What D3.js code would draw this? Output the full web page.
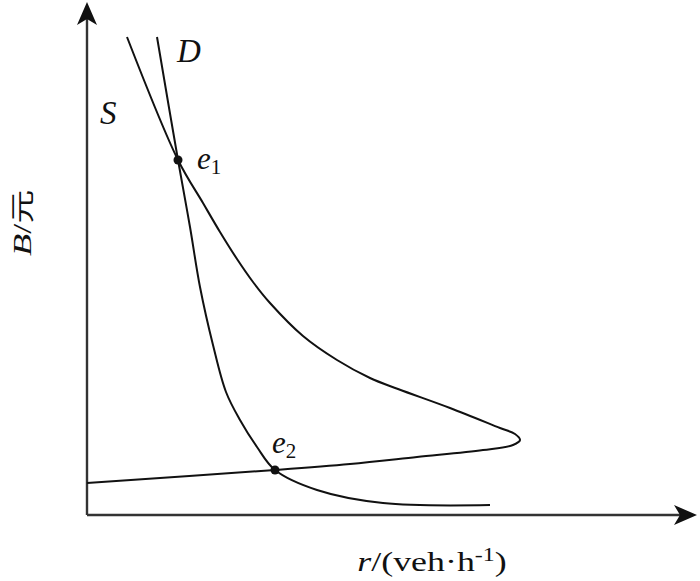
<!DOCTYPE html>
<html><head><meta charset="utf-8">
<script src="https://cdn.jsdelivr.net/npm/d3@7"></script>
<style>html,body{margin:0;padding:0;background:#fff;}</style>
</head><body>
<svg id="c" width="700" height="581"></svg>
<script>
// r (x) and B (y) readings, in chart units (origin at axis corner)
const curveS_r = [40, 91, 116, 133, 150, 166, 183, 216, 250, 283, 311, 363, 413, 428, 433, 426, 396, 330, 263, 188, 0];
const curveS_B = [478, 355, 312, 283, 256, 233, 212, 179, 155, 137, 126, 107, 87, 81, 75, 70, 65, 58, 51, 45, 32];
const curveD_r = [70, 91, 103, 113, 126, 139, 153, 170, 188, 230, 296, 403];
const curveD_B = [478, 355, 288, 228, 170, 123, 95, 68, 45, 25, 12, 10];
const points = [{name:"e", sub:"1", r:91, B:355}, {name:"e", sub:"2", r:188, B:45}];
const curveLabels = [{t:"D", r:90, B:453}, {t:"S", r:13, B:391}];
const xTitle = "r";
const yTitle = "B";

const svg = d3.select("#c");
const x0 = 87, y0 = 515;
const x = d3.scaleLinear().domain([0, 610]).range([x0, x0 + 610]);
const y = d3.scaleLinear().domain([0, 513]).range([y0, y0 - 513]);

// axes
const ax = svg.append("g").attr("stroke", "#333").attr("stroke-width", 2.4).attr("fill", "none");
ax.append("line").attr("x1", x(0)).attr("y1", y(0)).attr("x2", x(0)).attr("y2", y(500));
ax.append("line").attr("x1", x(0)).attr("y1", y(0)).attr("x2", x(597)).attr("y2", y(0));
// arrowheads
const tipY = y(513), tipX = x(610);
svg.append("path").attr("fill", "#111")
  .attr("d", `M${x0},${tipY} L${x0+10},${tipY+23} L${x0},${tipY+17} L${x0-10},${tipY+23} Z`);
svg.append("path").attr("fill", "#111")
  .attr("d", `M${tipX},${y0} L${tipX-23},${y0-10} L${tipX-17},${y0} L${tipX-23},${y0+10} Z`);

const line = d3.line().x(d => x(d[0])).y(d => y(d[1])).curve(d3.curveCatmullRom.alpha(0.5));
const sData = curveS_r.map((r, i) => [r, curveS_B[i]]);
const dData = curveD_r.map((r, i) => [r, curveD_B[i]]);
svg.append("path").attr("d", line(sData)).attr("fill", "none").attr("stroke", "#111").attr("stroke-width", 2);
svg.append("path").attr("d", line(dData)).attr("fill", "none").attr("stroke", "#111").attr("stroke-width", 2);

// points
svg.selectAll("circle.p").data(points).join("circle")
  .attr("cx", d => x(d.r)).attr("cy", d => y(d.B)).attr("r", 4.5).attr("fill", "#111");

const serif = "'Liberation Serif', 'Times New Roman', serif";
svg.selectAll("text.pl").data(points).join("text")
  .attr("x", (d, i) => x(d.r) + (i === 0 ? 19 : -3))
  .attr("y", (d, i) => y(d.B) + (i === 0 ? 9 : -17))
  .attr("font-family", serif).attr("font-size", 31).attr("font-style", "italic").attr("fill", "#111")
  .each(function(d) {
    const t = d3.select(this);
    t.append("tspan").text(d.name);
    t.append("tspan").attr("font-style", "normal").attr("font-size", 21).attr("dy", 5).text(d.sub);
  });

svg.selectAll("text.cl").data(curveLabels).join("text")
  .attr("x", d => x(d.r)).attr("y", d => y(d.B))
  .attr("font-family", serif).attr("font-size", 33).attr("font-style", "italic").attr("fill", "#111")
  .text(d => d.t);

// x title
const xt = svg.append("text").attr("transform", "translate(432,571) scale(1.33,1)").attr("text-anchor", "middle")
  .attr("font-family", serif).attr("font-size", 27).attr("fill", "#111");
xt.append("tspan").attr("font-style", "italic").text(xTitle);
xt.append("tspan").text("/(veh\u00b7h");
xt.append("tspan").attr("font-size", 18).attr("dy", -10).text("-1");
xt.append("tspan").attr("dy", 10).text(")");

// y title
const yt = svg.append("text").attr("transform", "translate(31,223) rotate(-90) scale(1.4,1)").attr("text-anchor", "middle")
  .attr("font-family", serif).attr("font-size", 26).attr("fill", "#111");
yt.append("tspan").attr("font-style", "italic").text(yTitle);
yt.append("tspan").text("/");
yt.append("tspan").attr("font-family", "'Noto Sans CJK SC', sans-serif").attr("font-size", 24).text("元");
</script>
</body></html>
